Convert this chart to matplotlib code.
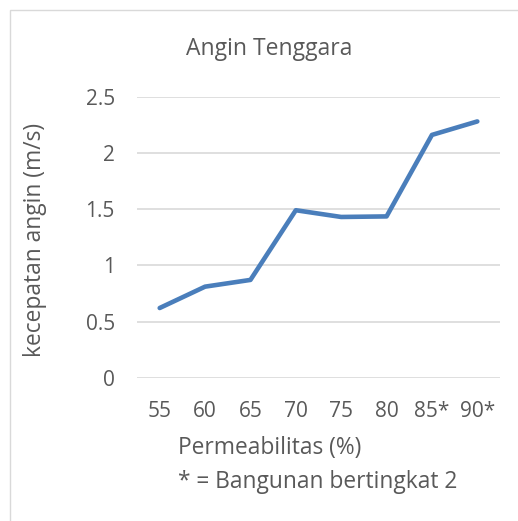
import matplotlib
matplotlib.use("Agg")
import matplotlib.pyplot as plt
from matplotlib.patches import Rectangle

categories = ["55", "60", "65", "70", "75", "80", "85*", "90*"]
values = [0.62, 0.81, 0.87, 1.49, 1.43, 1.435, 2.16, 2.28]
yticks = [0, 0.5, 1, 1.5, 2, 2.5]
ytick_labels = ["0", "0.5", "1", "1.5", "2", "2.5"]

plt.rcParams['font.family'] = ['Open Sans', 'DejaVu Sans']
TXT = '#595959'
W, H = 518, 521
fig = plt.figure(figsize=(W/100, H/100), dpi=100)
fig.patch.set_facecolor('white')
fig.patches.append(Rectangle((10/W, -0.1), 1.2, 1 - 10/H + 0.1, transform=fig.transFigure,
                             fill=False, edgecolor='#d9d9d9', linewidth=1))

ax = fig.add_axes([137/W, 1 - 377.7/H, (500-137)/W, (377.7-96.7)/H])
x = list(range(len(categories)))
ax.plot(x, values, color='#4a7ebb', linewidth=3.3, solid_capstyle='round', solid_joinstyle='round')
ax.set_xlim(-0.5, len(categories) - 0.5)
ax.set_ylim(0, 2.5)
ax.set_yticks(yticks)
ax.set_yticklabels(ytick_labels)
ax.set_xticks(x)
ax.set_xticklabels(categories)
ax.grid(axis='y', color='#d9d9d9', linewidth=1.2)
ax.set_axisbelow(True)
for s in ax.spines.values():
    s.set_visible(False)
ax.tick_params(length=0, labelsize=15, colors=TXT)
ax.tick_params(axis='x', pad=16.5)
ax.tick_params(axis='y', pad=16)

fig.text(269/W, 1 - 55/H, "Angin Tenggara", ha='center', va='baseline', fontsize=16.5, color=TXT)
fig.text(35/W, 1 - 240/H, "kecepatan angin (m/s)", ha='center', va='center', rotation=90, fontsize=16.4, color=TXT)
fig.text(178/W, 1 - 454/H, "Permeabilitas (%)", ha='left', va='baseline', fontsize=16.4, color=TXT)
fig.text(178/W, 1 - 488/H, "* = Bangunan bertingkat 2", ha='left', va='baseline', fontsize=16.4, color=TXT)

fig.savefig("out.png", dpi=100)
